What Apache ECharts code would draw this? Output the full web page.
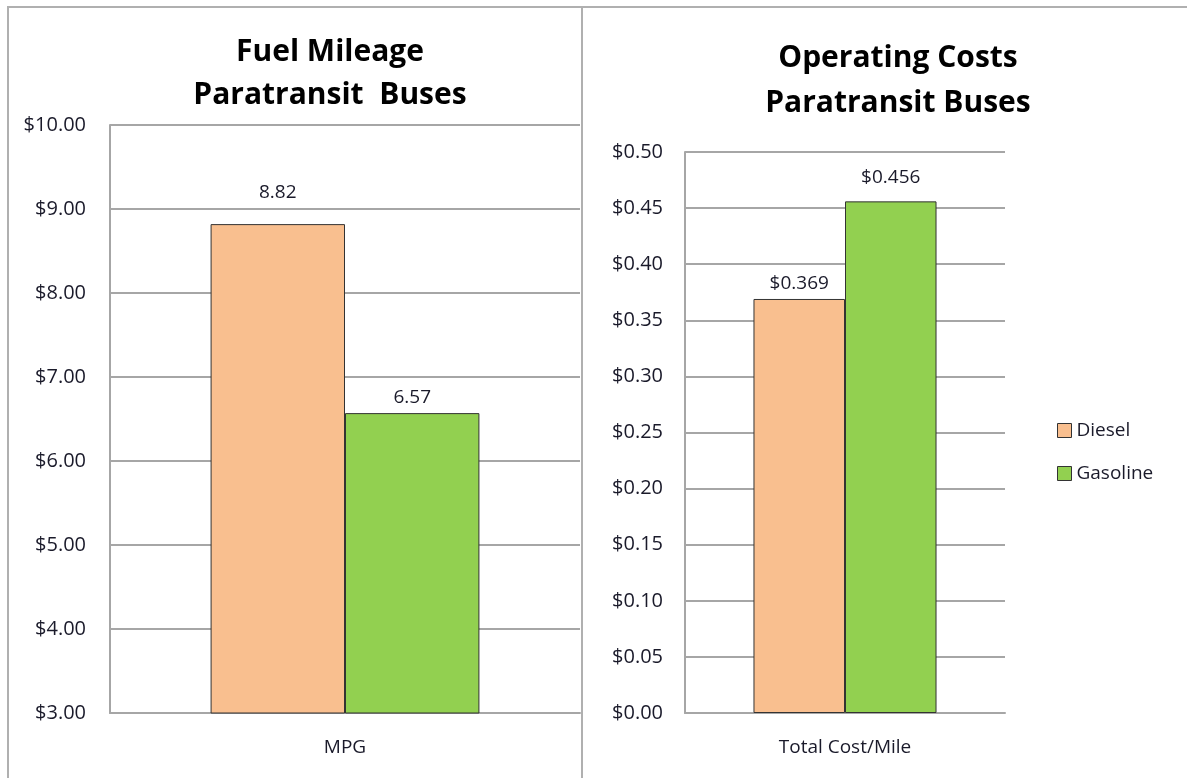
<!DOCTYPE html>
<html>
<head>
<meta charset="utf-8">
<script src="https://cdn.jsdelivr.net/npm/echarts@6/dist/echarts.min.js"></script>
<style>
  html, body { margin: 0; padding: 0; background: #fff; }
  #chart { width: 1187px; height: 778px; }
</style>
</head>
<body>
<div id="chart"></div>
<script>
// data
var seriesNames = ['Diesel', 'Gasoline']
var mileageCategories = ['MPG']
var mileageDiesel = [8.82]
var mileageGasoline = [6.57]
var costCategories = ['Total Cost/Mile']
var costDiesel = [0.369]
var costGasoline = [0.456]

var colors = ['#F9BF8F', '#92D050']
var fontFamily = '"Open Sans", Lato, sans-serif'
var textColor = '#1a1a2a'
var gridLine = '#a6a6a6'

var chart = echarts.init(document.getElementById('chart'))

function barSeries(name, data, idx, axisIdx, dist, fmt) {
  return {
    name: name,
    type: 'bar',
    xAxisIndex: axisIdx,
    yAxisIndex: axisIdx,
    data: data,
    barWidth: '28.6%',
    barGap: '0%',
    itemStyle: { color: colors[idx], borderColor: '#333', borderWidth: 1 },
    label: {
      show: true,
      position: 'top',
      distance: dist,
      color: textColor,
      fontSize: 19,
      fontFamily: fontFamily,
      formatter: fmt
    }
  }
}

var axisText = { fontSize: 20, fontFamily: fontFamily, color: textColor }
function money2(v) { return '$' + v.toFixed(2) }

chart.setOption({
  animation: false,
  title: [
    {
      text: 'Fuel Mileage\nParatransit  Buses',
      left: 325,
      top: 26,
      textAlign: 'center',
      textStyle: { fontSize: 30, fontWeight: 'bold', fontFamily: fontFamily, color: '#000', lineHeight: 43 }
    },
    {
      text: 'Operating Costs\nParatransit Buses',
      left: 893,
      top: 31,
      textAlign: 'center',
      textStyle: { fontSize: 30, fontWeight: 'bold', fontFamily: fontFamily, color: '#000', lineHeight: 45 }
    }
  ],
  legend: {
    orient: 'vertical',
    left: 1052,
    top: 416,
    itemGap: 24,
    itemWidth: 14,
    itemHeight: 14,
    icon: 'rect',
    data: seriesNames,
    textStyle: { fontSize: 19, fontFamily: fontFamily, color: textColor },
    itemStyle: { borderColor: '#333', borderWidth: 1 }
  },
  grid: [
    { left: 110, top: 125, width: 470, height: 588 },
    { left: 685, top: 152, width: 320, height: 561 }
  ],
  xAxis: [
    {
      type: 'category',
      gridIndex: 0,
      data: mileageCategories,
      axisLine: { lineStyle: { color: gridLine, width: 2 } },
      axisTick: { show: false },
      axisLabel: { margin: 25, fontSize: 19, fontFamily: fontFamily, color: textColor }
    },
    {
      type: 'category',
      gridIndex: 1,
      data: costCategories,
      axisLine: { lineStyle: { color: gridLine, width: 2 } },
      axisTick: { show: false },
      axisLabel: { margin: 25, fontSize: 19, fontFamily: fontFamily, color: textColor }
    }
  ],
  yAxis: [
    {
      type: 'value',
      gridIndex: 0,
      min: 3,
      max: 10,
      interval: 1,
      axisLine: { show: true, lineStyle: { color: gridLine, width: 2 } },
      axisTick: { show: false },
      splitLine: { lineStyle: { color: gridLine, width: 2 } },
      axisLabel: Object.assign({ margin: 24, formatter: money2 }, axisText)
    },
    {
      type: 'value',
      gridIndex: 1,
      min: 0,
      max: 0.5,
      interval: 0.05,
      axisLine: { show: true, lineStyle: { color: gridLine, width: 2 } },
      axisTick: { show: false },
      splitLine: { lineStyle: { color: gridLine, width: 2 } },
      axisLabel: Object.assign({ margin: 22, formatter: money2 }, axisText)
    }
  ],
  series: [
    barSeries(seriesNames[0], mileageDiesel, 0, 0, 22, function (p) { return p.value.toFixed(2) }),
    barSeries(seriesNames[1], mileageGasoline, 1, 0, 6, function (p) { return p.value.toFixed(2) }),
    barSeries(seriesNames[0], costDiesel, 0, 1, 6, function (p) { return '$' + p.value.toFixed(3) }),
    barSeries(seriesNames[1], costGasoline, 1, 1, 14, function (p) { return '$' + p.value.toFixed(3) })
  ],
  graphic: [
    // panel borders
    { type: 'line', shape: { x1: 7, y1: 7, x2: 1187, y2: 7 }, style: { stroke: '#b0b0b0', lineWidth: 2 } },
    { type: 'line', shape: { x1: 8, y1: 7, x2: 8, y2: 778 }, style: { stroke: '#b0b0b0', lineWidth: 2 } },
    { type: 'line', shape: { x1: 582, y1: 7, x2: 582, y2: 778 }, style: { stroke: '#b0b0b0', lineWidth: 2 } }
  ]
})
</script>
</body>
</html>
